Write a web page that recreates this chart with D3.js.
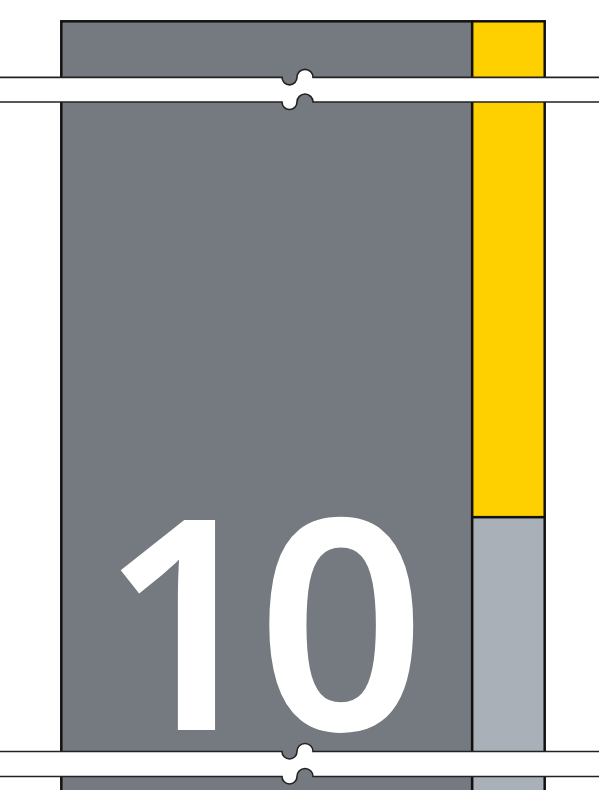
<!DOCTYPE html>
<html>
<head>
<meta charset="utf-8">
<script src="https://cdn.jsdelivr.net/npm/d3@7/dist/d3.min.js"></script>
<style>
  html, body { margin: 0; padding: 0; background: #fff; }
  svg { display: block; }
</style>
</head>
<body>
<svg id="chart" width="599" height="790"></svg>
<script>
// ---- data ----
const columns = ["Main", "Other"];
const columnShares = [0.85, 0.15];
const segmentNames = ["Main", "Upper", "Lower"];
const segmentColumn = [0, 1, 1];
const segmentStart = [0, 50, 0];
const segmentEnd = [100, 100, 50];
const segmentLabels = ["10", "", ""];
const segmentColors = ["#747a80", "#ffd000", "#a9b0b7"];
const axisBreaks = [[94.35, 91.86], [26.38, 23.86]]; // value ranges hidden by break bands

// ---- layout ----
const W = 599, H = 790;
const svg = d3.select("#chart");

const colStarts = columnShares.map((d, i) => d3.sum(columnShares.slice(0, i)));
const x = d3.scaleLinear().domain([0, 1]).range([61.3, 544.7]);
const y = d3.scaleLinear().domain([0, 100]).range([1013.1, 21.3]);

const segs = segmentNames.map((name, i) => ({
  name,
  col: segmentColumn[i],
  y0: segmentStart[i],
  y1: segmentEnd[i],
  label: segmentLabels[i],
  color: segmentColors[i]
}));

svg.selectAll("rect.seg")
  .data(segs)
  .join("rect")
  .attr("class", "seg")
  .attr("x", d => x(colStarts[d.col]))
  .attr("width", d => x(colStarts[d.col] + columnShares[d.col]) - x(colStarts[d.col]))
  .attr("y", d => y(d.y1))
  .attr("height", d => y(d.y0) - y(d.y1))
  .attr("fill", d => d.color)
  .attr("stroke", "#111")
  .attr("stroke-width", 2.5);

svg.selectAll("text.lbl")
  .data(segs.filter(d => d.label))
  .join("text")
  .attr("class", "lbl")
  .attr("x", d => (x(colStarts[d.col]) + x(colStarts[d.col] + columnShares[d.col])) / 2 - 9.5)
  .attr("y", 730)
  .attr("text-anchor", "middle")
  .attr("fill", "#fff")
  .style("font-family", "'Noto Sans', sans-serif")
  .style("font-weight", 600)
  .style("font-size", "294px")
  .style("letter-spacing", "-11px")
  .text(d => d.label);

// ---- axis break bands ----
const nx0 = 282, nmid = 297, nx1 = 313;
function edge(t) {
  return `M0,${t} H${nx0} A7.5,7.5 0 0 0 ${nmid},${t} A8,8 0 0 1 ${nx1},${t} H${W}`;
}
function edgeRev(b) {
  return `L${W},${b} H${nx1} A8,8 0 0 0 ${nmid},${b} A7.5,7.5 0 0 1 ${nx0},${b} H0 Z`;
}
axisBreaks.forEach(([v0, v1]) => {
  const t = y(v0), b = y(v1);
  const g = svg.append("g");
  g.append("path").attr("d", edge(t) + " " + edgeRev(b)).attr("fill", "#fff").attr("stroke", "none");
  g.append("path").attr("d", edge(t)).attr("fill", "none").attr("stroke", "#222").attr("stroke-width", 1.6);
  g.append("path").attr("d", edge(b)).attr("fill", "none").attr("stroke", "#222").attr("stroke-width", 1.6);
});
</script>
</body>
</html>
